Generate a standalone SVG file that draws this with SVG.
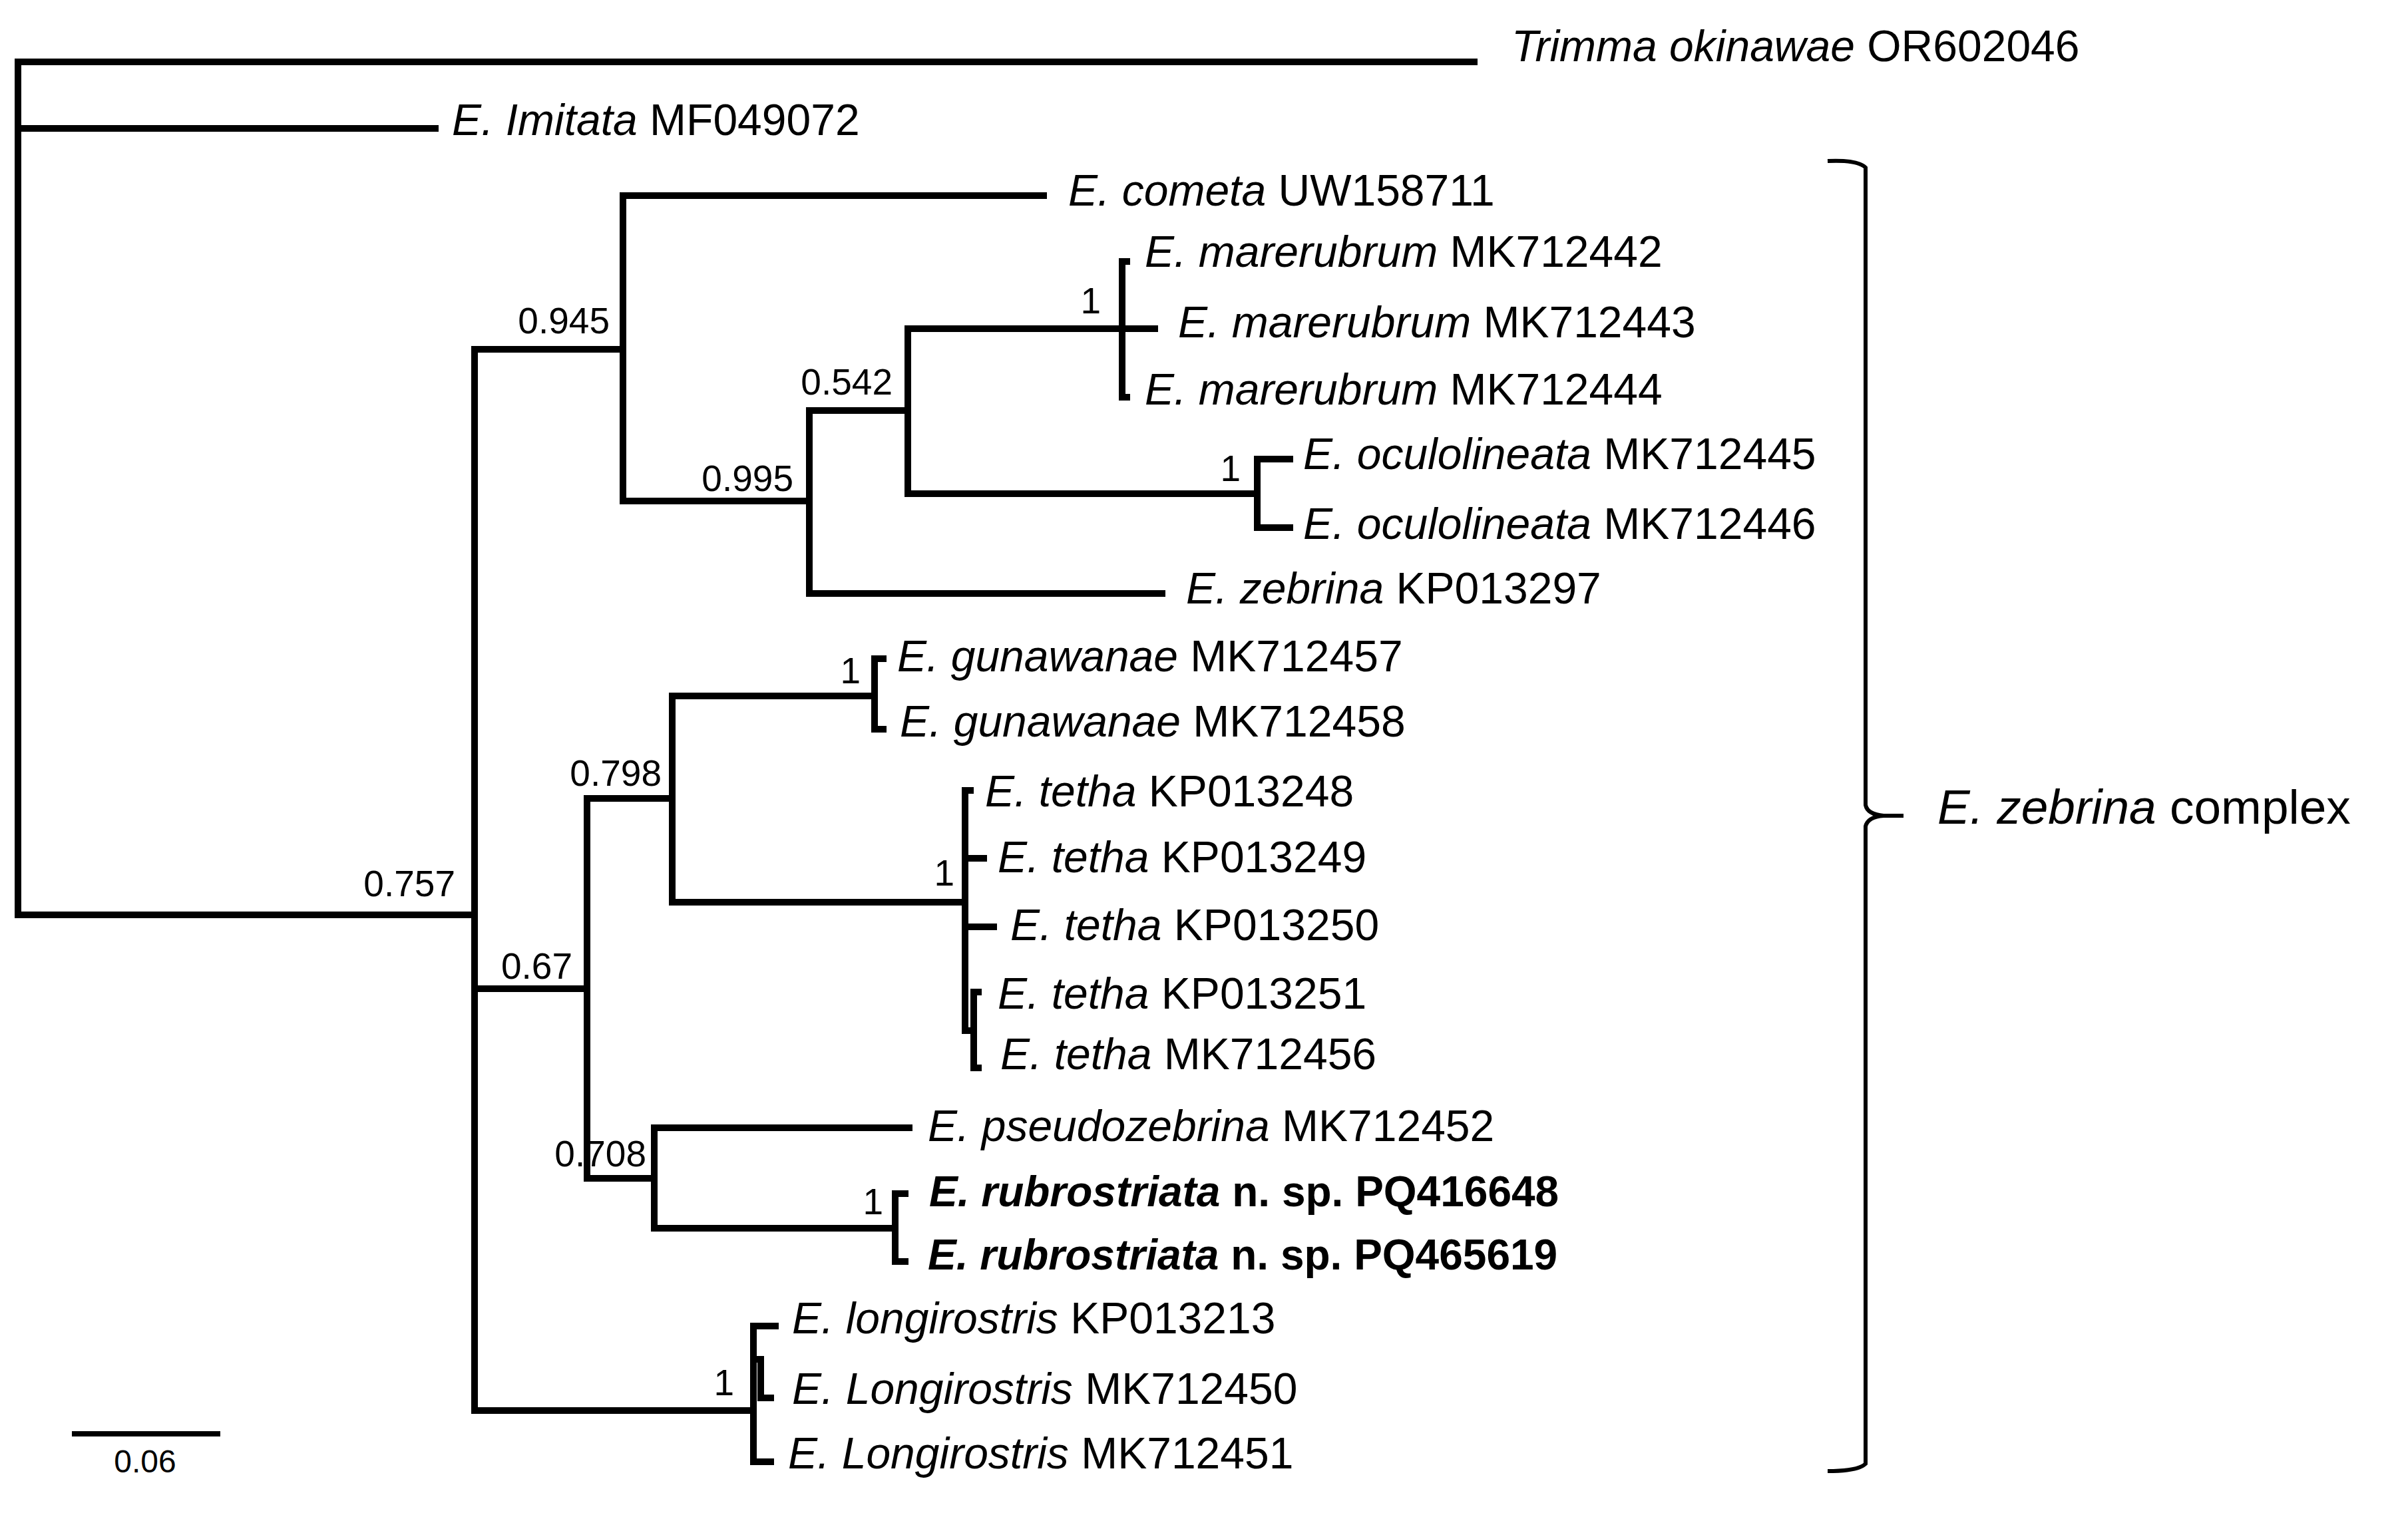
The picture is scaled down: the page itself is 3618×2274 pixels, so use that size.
<svg xmlns="http://www.w3.org/2000/svg" width="3618" height="2274" viewBox="0 0 3618 2274">
<style>
.br{fill:none;stroke:#000;stroke-width:10;stroke-linecap:square;stroke-linejoin:miter}
.tip{font-family:"Liberation Sans",Arial,sans-serif;font-size:66px;fill:#000}
.tipb{font-family:"Liberation Sans",Arial,sans-serif;font-size:64px;font-weight:bold;fill:#000}
.sp{font-style:italic}
.sup{font-family:"Liberation Sans",Arial,sans-serif;font-size:55px;fill:#000;text-anchor:end}
.scale{font-family:"Liberation Sans",Arial,sans-serif;font-size:48px;fill:#000;text-anchor:middle}
.cx{font-family:"Liberation Sans",Arial,sans-serif;font-size:73px;fill:#000}
</style>
<rect width="3618" height="2274" fill="#fff"/>
<g id="branches">
<path class="br" d="M2215 93 H27 V1375 H713"/>
<path class="br" d="M27 193 H654"/>
<path class="br" d="M713 525 V2120"/>
<path class="br" d="M713 525 H936 M936 294 V753 M936 294 H1568 M936 753 H1216"/>
<path class="br" d="M1216 617 V892 M1216 617 H1364 M1216 892 H1746"/>
<path class="br" d="M1364 494 V742 M1364 494 H1735 M1364 742 H1889"/>
<path class="br" d="M1686 393 V597 M1686 393 H1693 M1686 597 H1693"/>
<path class="br" d="M1889 690 V793 M1889 690 H1938 M1889 793 H1938"/>
<path class="br" d="M713 1486 H882 M882 1200 V1771 M882 1200 H1010 M882 1771 H983"/>
<path class="br" d="M1010 1046 V1356 M1010 1046 H1314 M1010 1356 H1450"/>
<path class="br" d="M1314 990 V1096 M1314 990 H1327 M1314 1096 H1327"/>
<path class="br" d="M1450 1188 V1549 M1450 1188 H1458 M1450 1290 H1478 M1450 1393 H1493 M1450 1549 H1463"/>
<path class="br" d="M1463 1491 V1605 M1463 1491 H1470 M1463 1605 H1470"/>
<path class="br" d="M983 1695 V1846 M983 1695 H1366 M983 1846 H1345"/>
<path class="br" d="M1345 1794 V1896 M1345 1794 H1360 M1345 1896 H1360"/>
<path class="br" d="M713 2120 H1132 M1132 1993 V2197 M1132 1993 H1165 M1132 2197 H1158"/>
<path class="br" d="M1132 2043 H1143 V2101 H1158"/>
</g>
<g id="tip-trimma"><text class="tip" x="2271" y="92"><tspan class="sp">Trimma okinawae</tspan> OR602046</text></g>
<g id="tip-imitata"><text class="tip" x="679" y="203"><tspan class="sp">E. Imitata</tspan> MF049072</text></g>
<g id="tip-cometa"><text class="tip" x="1605" y="309"><tspan class="sp">E. cometa</tspan> UW158711</text></g>
<g id="tip-mare442"><text class="tip" x="1720" y="401"><tspan class="sp">E. marerubrum</tspan> MK712442</text></g>
<g id="tip-mare443"><text class="tip" x="1770" y="507"><tspan class="sp">E. marerubrum</tspan> MK712443</text></g>
<g id="tip-mare444"><text class="tip" x="1720" y="608"><tspan class="sp">E. marerubrum</tspan> MK712444</text></g>
<g id="tip-ocu445"><text class="tip" x="1958" y="705"><tspan class="sp">E. oculolineata</tspan> MK712445</text></g>
<g id="tip-ocu446"><text class="tip" x="1958" y="810"><tspan class="sp">E. oculolineata</tspan> MK712446</text></g>
<g id="tip-zebrina"><text class="tip" x="1782" y="907"><tspan class="sp">E. zebrina</tspan> KP013297</text></g>
<g id="tip-gun457"><text class="tip" x="1348" y="1009"><tspan class="sp">E. gunawanae</tspan> MK712457</text></g>
<g id="tip-gun458"><text class="tip" x="1352" y="1107"><tspan class="sp">E. gunawanae</tspan> MK712458</text></g>
<g id="tip-tetha248"><text class="tip" x="1480" y="1212"><tspan class="sp">E. tetha</tspan> KP013248</text></g>
<g id="tip-tetha249"><text class="tip" x="1499" y="1311"><tspan class="sp">E. tetha</tspan> KP013249</text></g>
<g id="tip-tetha250"><text class="tip" x="1518" y="1413"><tspan class="sp">E. tetha</tspan> KP013250</text></g>
<g id="tip-tetha251"><text class="tip" x="1499" y="1516"><tspan class="sp">E. tetha</tspan> KP013251</text></g>
<g id="tip-tetha456"><text class="tip" x="1503" y="1607"><tspan class="sp">E. tetha</tspan> MK712456</text></g>
<g id="tip-pseudo"><text class="tip" x="1394" y="1715"><tspan class="sp">E. pseudozebrina</tspan> MK712452</text></g>
<g id="tip-rubro648"><text class="tipb" x="1396" y="1813"><tspan class="sp">E. rubrostriata</tspan> n. sp. PQ416648</text></g>
<g id="tip-rubro619"><text class="tipb" x="1394" y="1908"><tspan class="sp">E. rubrostriata</tspan> n. sp. PQ465619</text></g>
<g id="tip-longi213"><text class="tip" x="1190" y="2004"><tspan class="sp">E. longirostris</tspan> KP013213</text></g>
<g id="tip-longi450"><text class="tip" x="1190" y="2110"><tspan class="sp">E. Longirostris</tspan> MK712450</text></g>
<g id="tip-longi451"><text class="tip" x="1184" y="2207"><tspan class="sp">E. Longirostris</tspan> MK712451</text></g>
<g id="support">
<text class="sup" x="916" y="501">0.945</text>
<text class="sup" x="1192" y="738">0.995</text>
<text class="sup" x="1341" y="593">0.542</text>
<text class="sup" x="1654" y="471">1</text>
<text class="sup" x="1864" y="723">1</text>
<text class="sup" x="684" y="1347">0.757</text>
<text class="sup" x="860" y="1471">0.67</text>
<text class="sup" x="994" y="1181">0.798</text>
<text class="sup" x="1293" y="1027">1</text>
<text class="sup" x="1434" y="1331">1</text>
<text class="sup" x="971" y="1753">0.708</text>
<text class="sup" x="1327" y="1825">1</text>
<text class="sup" x="1103" y="2097">1</text>
</g>
<g id="scale-bar">
<line x1="108" y1="2155" x2="331" y2="2155" stroke="#000" stroke-width="8"/>
<text class="scale" x="218" y="2213">0.06</text>
</g>
<g id="clade-bracket">
<path d="M2746 242 Q2792 240 2803 252 L2803 1210 Q2806 1224 2830 1226 L2860 1226 M2830 1226 Q2806 1228 2803 1242 L2803 2200 Q2792 2211 2746 2211" fill="none" stroke="#000" stroke-width="6"/>
<text class="cx" x="2911" y="1238"><tspan class="sp">E. zebrina</tspan> complex</text>
</g>
</svg>
